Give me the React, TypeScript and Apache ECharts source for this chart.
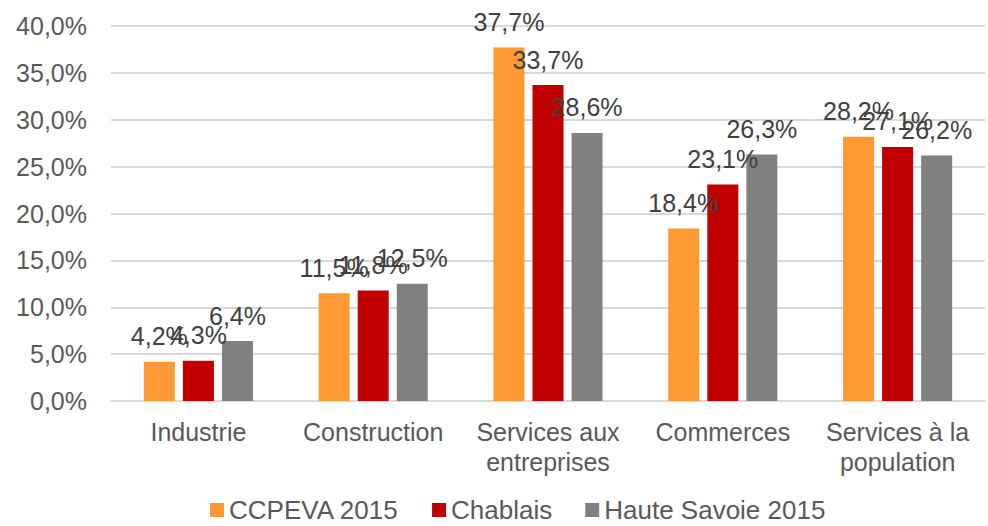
import React, { useEffect, useRef } from "react";
import * as echarts from "echarts";

const categories = ["Industrie", "Construction", "Services aux\nentreprises", "Commerces", "Services à la\npopulation"];
const ccpeva = [4.2, 11.5, 37.7, 18.4, 28.2];
const chablais = [4.3, 11.8, 33.7, 23.1, 27.1];
const hauteSavoie = [6.4, 12.5, 28.6, 26.3, 26.2];
const seriesNames = ["CCPEVA 2015", "Chablais", "Haute Savoie 2015"];
const colors = ["#FF9933", "#C00000", "#808080"];

const FONT = "Liberation Sans, Arial, sans-serif";
const fmt = (v: number) => v.toFixed(1).replace(".", ",") + "%";

export default function App() {
  const ref = useRef<HTMLDivElement>(null);
  useEffect(() => {
    if (!ref.current) return;
    const chart = echarts.init(ref.current, null, { renderer: "svg" });
    const mk = (name: string, data: number[], color: string) => ({
      name,
      type: "bar",
      data,
      barWidth: 31,
      barGap: "26%",
      itemStyle: { color },
      label: {
        show: true,
        position: "top",
        distance: 13,
        formatter: (p: any) => fmt(p.value),
        color: "#404040",
        fontSize: 25,
        fontFamily: FONT,
      },
    });
    chart.setOption({
      animation: false,
      grid: { left: 111, right: 3, top: 26, bottom: 125 },
      legend: {
        bottom: -2,
        left: 205,
        itemWidth: 14,
        itemHeight: 14,
        itemGap: 33,
        icon: "rect",
        textStyle: { fontSize: 26, color: "#595959", fontFamily: FONT },
        data: seriesNames,
      },
      xAxis: {
        type: "category",
        data: categories,
        axisLine: { lineStyle: { color: "#d9d9d9", width: 2 } },
        axisTick: { show: false },
        axisLabel: { color: "#595959", fontSize: 25, fontFamily: FONT, lineHeight: 30, margin: 16, interval: 0 },
      },
      yAxis: {
        type: "value",
        min: 0,
        max: 40,
        interval: 5,
        axisLabel: { formatter: (v: number) => fmt(v), color: "#595959", fontSize: 25, fontFamily: FONT, margin: 24 },
        splitLine: { lineStyle: { color: "#d9d9d9", width: 2 } },
        axisLine: { show: false },
        axisTick: { show: false },
      },
      series: [
        mk(seriesNames[0], ccpeva, colors[0]),
        mk(seriesNames[1], chablais, colors[1]),
        mk(seriesNames[2], hauteSavoie, colors[2]),
      ],
    });
    return () => chart.dispose();
  }, []);
  return <div ref={ref} style={{ position: "fixed", left: 0, top: 0, width: 988, height: 526, background: "#fff" }} />;
}
